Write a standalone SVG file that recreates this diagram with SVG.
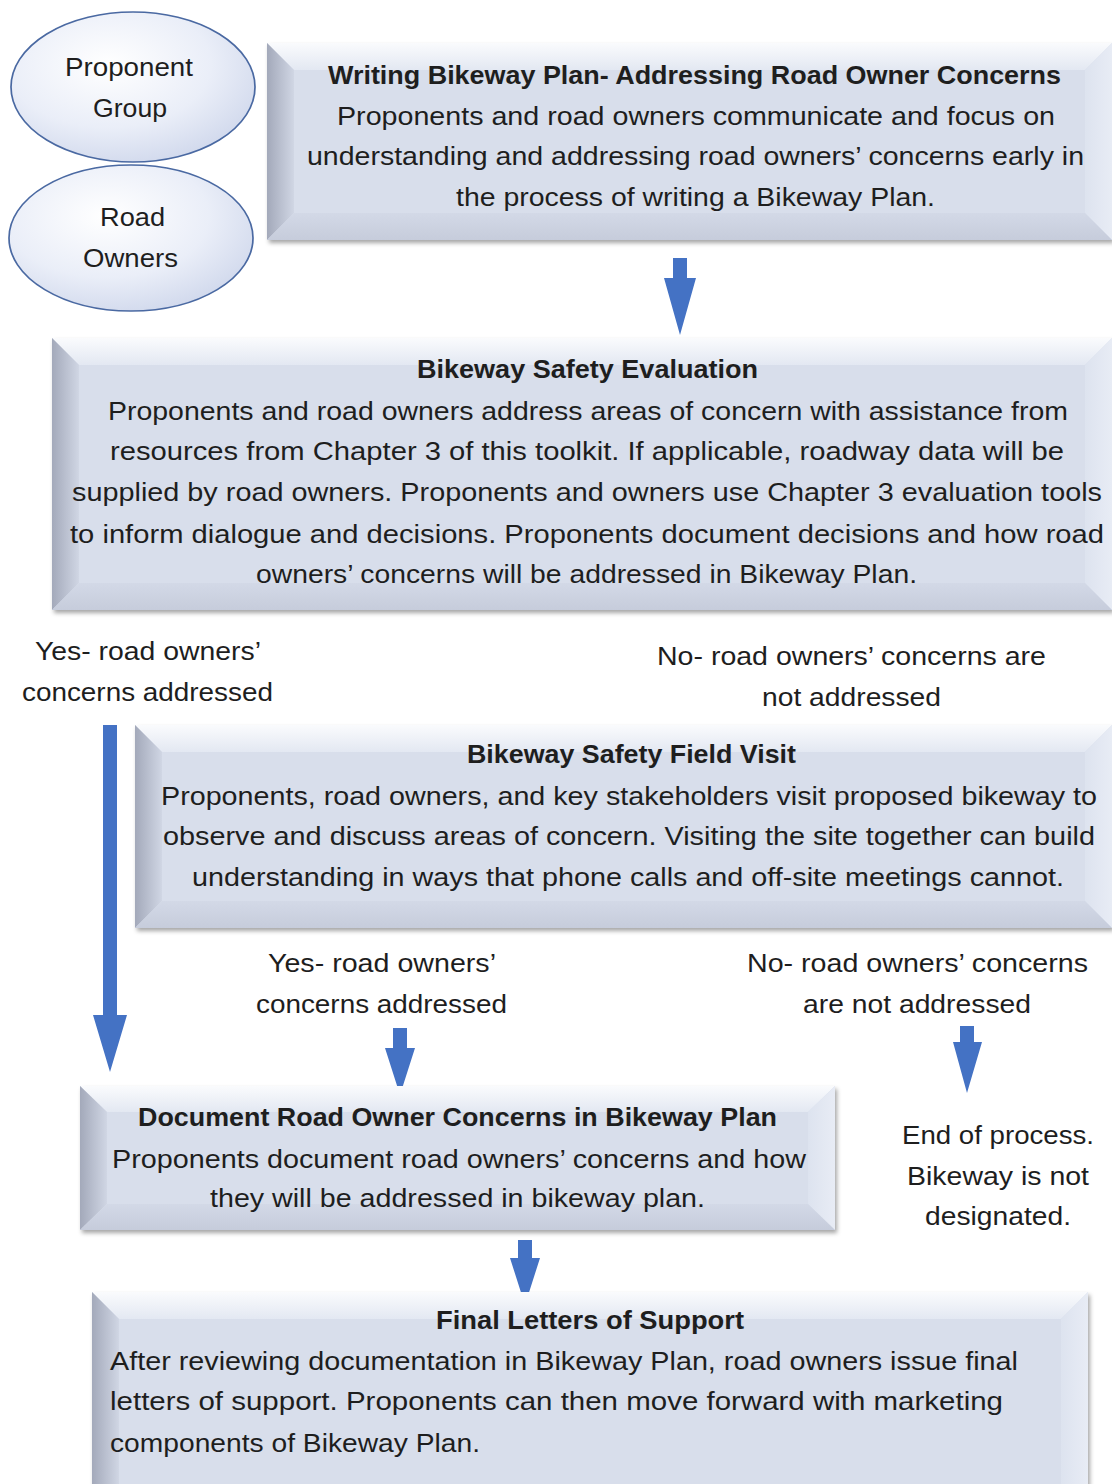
<svg xmlns="http://www.w3.org/2000/svg" width="1112" height="1484" viewBox="0 0 1112 1484">
<defs>
  <linearGradient id="gTop" x1="0" y1="0" x2="0" y2="1">
    <stop offset="0" stop-color="#fafbfd"/>
    <stop offset="1" stop-color="#e3e8f2"/>
  </linearGradient>
  <linearGradient id="gLeft" x1="0" y1="0" x2="1" y2="0">
    <stop offset="0" stop-color="#a3a9ba"/>
    <stop offset="1" stop-color="#d0d6e4"/>
  </linearGradient>
  <linearGradient id="gRight" x1="0" y1="0" x2="1" y2="0">
    <stop offset="0" stop-color="#dde3ef"/>
    <stop offset="1" stop-color="#e8ecf5"/>
  </linearGradient>
  <linearGradient id="gBot" x1="0" y1="0" x2="0" y2="1">
    <stop offset="0" stop-color="#d3d9e7"/>
    <stop offset="1" stop-color="#c6ccdb"/>
  </linearGradient>
  <radialGradient id="gEll" cx="0.4" cy="0.35" r="0.7">
    <stop offset="0" stop-color="#ffffff"/>
    <stop offset="0.6" stop-color="#eaeef8"/>
    <stop offset="1" stop-color="#d0d8ec"/>
  </radialGradient>
  <filter id="shadow" x="-5%" y="-5%" width="110%" height="115%">
    <feDropShadow dx="2" dy="3" stdDeviation="2" flood-color="#000" flood-opacity="0.35"/>
  </filter>
</defs>
<style>
  .face { fill: #d8deeb; }
  .t { font-family: "Liberation Sans", Arial, sans-serif; font-size: 25px; fill: #1e1e1e; }
  .b { font-weight: bold; }
  .ell { fill: url(#gEll); stroke: #4a69a2; stroke-width: 1.7; }
  .arrow { fill: #4472c4; }
</style>

<g id="connectors">
  <polygon class="arrow" points="673,258 687,258 687,278 696,278 680,335 664,278 673,278"/>
  <polygon class="arrow" points="103,725 117,725 117,1015 127,1015 110,1072 93,1015 103,1015"/>
  <polygon class="arrow" points="393,1028 407,1028 407,1048 415,1048 400,1095 385,1048 393,1048"/>
  <polygon class="arrow" points="960,1026 974,1026 974,1042 982,1042 967,1093 953,1042 960,1042"/>
  <polygon class="arrow" points="518,1240 532,1240 532,1258 540,1258 525,1305 510,1258 518,1258"/>
</g>

<g id="proponent-group">
  <ellipse class="ell" cx="133" cy="87" rx="122" ry="75"/>
  <text class="t" x="65" y="76" textLength="128" lengthAdjust="spacingAndGlyphs">Proponent</text>
  <text class="t" x="93" y="117" textLength="74" lengthAdjust="spacingAndGlyphs">Group</text>
</g>

<g id="road-owners">
  <ellipse class="ell" cx="131" cy="238" rx="122" ry="73"/>
  <text class="t" x="100" y="226" textLength="65" lengthAdjust="spacingAndGlyphs">Road</text>
  <text class="t" x="83" y="267" textLength="95" lengthAdjust="spacingAndGlyphs">Owners</text>
</g>

<g id="writing-plan">
  <g filter="url(#shadow)">
    <rect class="face" x="267" y="43" width="845" height="197"/>
    <polygon fill="url(#gTop)" points="267,43 1112,43 1085,70 294,70"/>
    <polygon fill="url(#gLeft)" points="267,43 294,70 294,213 267,240"/>
    <polygon fill="url(#gRight)" points="1112,43 1112,240 1085,213 1085,70"/>
    <polygon fill="url(#gBot)" points="267,240 294,213 1085,213 1112,240"/>
  </g>
  <text class="t b" x="328" y="84" textLength="733" lengthAdjust="spacingAndGlyphs">Writing Bikeway Plan- Addressing Road Owner Concerns</text>
  <text class="t" x="337" y="125" textLength="718" lengthAdjust="spacingAndGlyphs">Proponents and road owners communicate and focus on</text>
  <text class="t" x="307" y="165" textLength="777" lengthAdjust="spacingAndGlyphs">understanding and addressing road owners’ concerns early in</text>
  <text class="t" x="456" y="206" textLength="479" lengthAdjust="spacingAndGlyphs">the process of writing a Bikeway Plan.</text>
</g>

<g id="safety-evaluation">
  <g filter="url(#shadow)">
    <rect class="face" x="52" y="338" width="1060" height="272"/>
    <polygon fill="url(#gTop)" points="52,338 1112,338 1085,365 79,365"/>
    <polygon fill="url(#gLeft)" points="52,338 79,365 79,583 52,610"/>
    <polygon fill="url(#gRight)" points="1112,338 1112,610 1085,583 1085,365"/>
    <polygon fill="url(#gBot)" points="52,610 79,583 1085,583 1112,610"/>
  </g>
  <text class="t b" x="417" y="378" textLength="341" lengthAdjust="spacingAndGlyphs">Bikeway Safety Evaluation</text>
  <text class="t" x="108" y="420" textLength="960" lengthAdjust="spacingAndGlyphs">Proponents and road owners address areas of concern with assistance from</text>
  <text class="t" x="110" y="460" textLength="954" lengthAdjust="spacingAndGlyphs">resources from Chapter 3 of this toolkit.  If applicable, roadway data will be</text>
  <text class="t" x="72" y="501" textLength="1030" lengthAdjust="spacingAndGlyphs">supplied by road owners.  Proponents and owners use Chapter 3 evaluation tools</text>
  <text class="t" x="70" y="543" textLength="1034" lengthAdjust="spacingAndGlyphs">to inform dialogue and decisions.  Proponents document decisions and how road</text>
  <text class="t" x="256" y="583" textLength="661" lengthAdjust="spacingAndGlyphs">owners’ concerns will be addressed in Bikeway Plan.</text>
</g>

<g id="label-yes-1">
  <text class="t" x="35" y="660" textLength="226" lengthAdjust="spacingAndGlyphs">Yes- road owners’</text>
  <text class="t" x="22" y="701" textLength="251" lengthAdjust="spacingAndGlyphs">concerns addressed</text>
</g>
<g id="label-no-1">
  <text class="t" x="657" y="665" textLength="389" lengthAdjust="spacingAndGlyphs">No- road owners’ concerns are</text>
  <text class="t" x="762" y="706" textLength="179" lengthAdjust="spacingAndGlyphs">not addressed</text>
</g>

<g id="field-visit">
  <g filter="url(#shadow)">
    <rect class="face" x="135" y="725" width="977" height="203"/>
    <polygon fill="url(#gTop)" points="135,725 1112,725 1085,752 162,752"/>
    <polygon fill="url(#gLeft)" points="135,725 162,752 162,901 135,928"/>
    <polygon fill="url(#gRight)" points="1112,725 1112,928 1085,901 1085,752"/>
    <polygon fill="url(#gBot)" points="135,928 162,901 1085,901 1112,928"/>
  </g>
  <text class="t b" x="467" y="763" textLength="329" lengthAdjust="spacingAndGlyphs">Bikeway Safety Field Visit</text>
  <text class="t" x="161" y="805" textLength="936" lengthAdjust="spacingAndGlyphs">Proponents, road owners, and key stakeholders visit proposed bikeway to</text>
  <text class="t" x="163" y="845" textLength="932" lengthAdjust="spacingAndGlyphs">observe and discuss areas of concern.  Visiting the site together can build</text>
  <text class="t" x="192" y="886" textLength="872" lengthAdjust="spacingAndGlyphs">understanding in ways that phone calls and off-site meetings cannot.</text>
</g>

<g id="label-yes-2">
  <text class="t" x="268" y="972" textLength="228" lengthAdjust="spacingAndGlyphs">Yes- road owners’</text>
  <text class="t" x="256" y="1013" textLength="251" lengthAdjust="spacingAndGlyphs">concerns addressed</text>
</g>
<g id="label-no-2">
  <text class="t" x="747" y="972" textLength="341" lengthAdjust="spacingAndGlyphs">No- road owners’ concerns</text>
  <text class="t" x="803" y="1013" textLength="228" lengthAdjust="spacingAndGlyphs">are not addressed</text>
</g>

<g id="document-concerns">
  <g filter="url(#shadow)">
    <rect class="face" x="80" y="1086" width="755" height="144"/>
    <polygon fill="url(#gTop)" points="80,1086 835,1086 808,1112 107,1112"/>
    <polygon fill="url(#gLeft)" points="80,1086 107,1112 107,1204 80,1230"/>
    <polygon fill="url(#gRight)" points="835,1086 835,1230 808,1204 808,1112"/>
    <polygon fill="url(#gBot)" points="80,1230 107,1204 808,1204 835,1230"/>
  </g>
  <text class="t b" x="138" y="1126" textLength="639" lengthAdjust="spacingAndGlyphs">Document Road Owner Concerns in Bikeway Plan</text>
  <text class="t" x="112" y="1168" textLength="694" lengthAdjust="spacingAndGlyphs">Proponents document road owners’ concerns and how</text>
  <text class="t" x="210" y="1207" textLength="495" lengthAdjust="spacingAndGlyphs">they will be addressed in bikeway plan.</text>
</g>

<g id="end-of-process">
  <text class="t" x="902" y="1144" textLength="192" lengthAdjust="spacingAndGlyphs">End of process.</text>
  <text class="t" x="907" y="1185" textLength="182" lengthAdjust="spacingAndGlyphs">Bikeway is not</text>
  <text class="t" x="925" y="1225" textLength="146" lengthAdjust="spacingAndGlyphs">designated.</text>
</g>

<g id="final-letters">
  <g filter="url(#shadow)">
    <rect class="face" x="92" y="1292" width="996" height="220"/>
    <polygon fill="url(#gTop)" points="92,1292 1088,1292 1061,1319 119,1319"/>
    <polygon fill="url(#gLeft)" points="92,1292 119,1319 119,1485 92,1512"/>
    <polygon fill="url(#gRight)" points="1088,1292 1088,1512 1061,1485 1061,1319"/>
  </g>
  <text class="t b" x="436" y="1329" textLength="308" lengthAdjust="spacingAndGlyphs">Final Letters of Support</text>
  <text class="t" x="110" y="1370" textLength="908" lengthAdjust="spacingAndGlyphs">After reviewing documentation in Bikeway Plan, road owners issue final</text>
  <text class="t" x="110" y="1410" textLength="893" lengthAdjust="spacingAndGlyphs">letters of support.  Proponents can then move forward with marketing</text>
  <text class="t" x="110" y="1452" textLength="370" lengthAdjust="spacingAndGlyphs">components of Bikeway Plan.</text>
</g>
</svg>
